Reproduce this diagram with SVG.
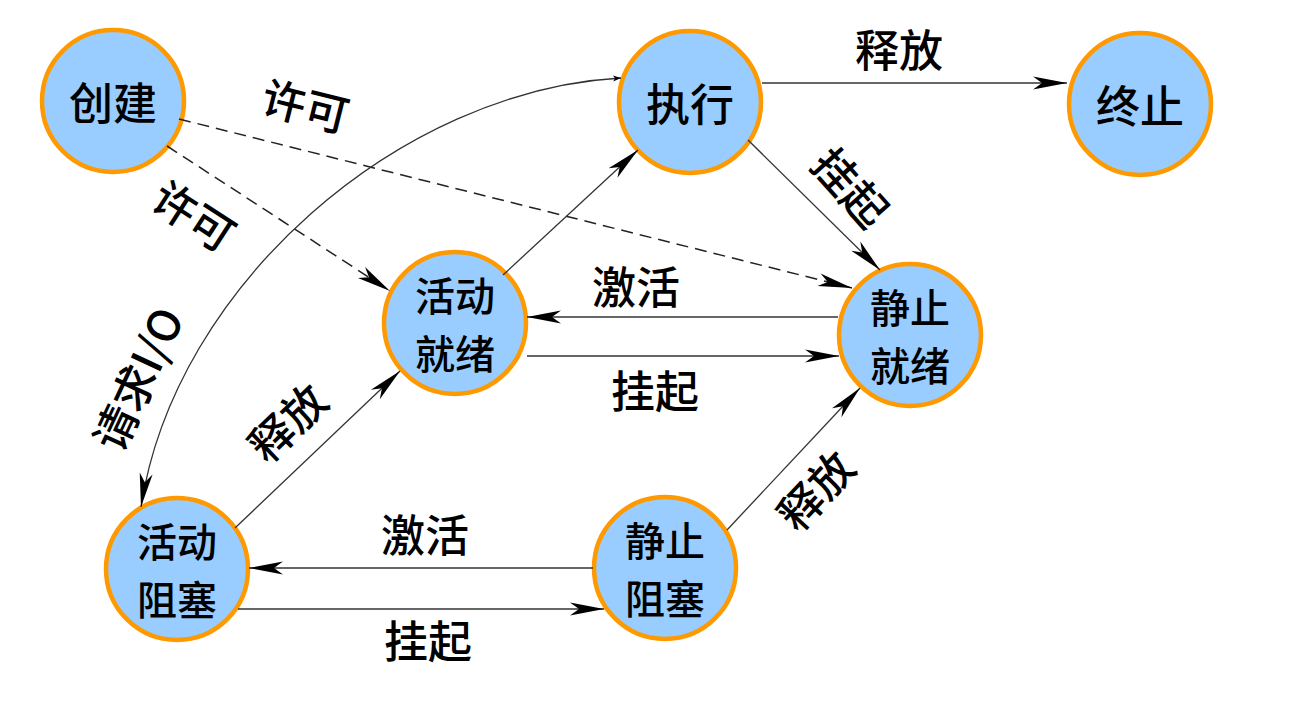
<svg xmlns="http://www.w3.org/2000/svg" width="1290" height="703" viewBox="0 0 1290 703">
<style>
.node circle{fill:#99CCFF;stroke:#FF9900;stroke-width:4.5}
text{font-family:"Noto Sans CJK SC","Noto Sans",sans-serif;font-size:44px;font-weight:500;fill:#000;text-anchor:middle;dominant-baseline:central}
.node text.two{font-size:40px}
.e{fill:none;stroke:#333;stroke-width:1.3}
.d{fill:none;stroke:#222;stroke-width:1.5;stroke-dasharray:12 7}
</style>
<defs>
<marker id="ah" markerUnits="userSpaceOnUse" markerWidth="40" markerHeight="16" viewBox="-37 -8 38 16" refX="0" refY="0" orient="auto">
<path d="M0,0 L-34,-6.5 L-25,0 L-34,6.5 Z" fill="#000"/>
</marker>
<marker id="sm" markerUnits="userSpaceOnUse" markerWidth="10" markerHeight="8" viewBox="-9 -4 10 8" refX="0" refY="0" orient="auto-start-reverse">
<path d="M0,0 L-8,-3 L-6,0 L-8,3 Z" fill="#000"/>
</marker>
</defs>
<rect width="1290" height="703" fill="#fff"/>
<g id="nodes">
<g id="n-create" class="node"><circle cx="113" cy="101" r="71"/><text x="113" y="101">创建</text></g>
<g id="n-run" class="node"><circle cx="690" cy="102" r="71"/><text x="690" y="102">执行</text></g>
<g id="n-end" class="node"><circle cx="1140" cy="104" r="71"/><text x="1140" y="104">终止</text></g>
<g id="n-aready" class="node"><circle cx="455" cy="323" r="71"/><text class="two" x="455" y="294">活动</text><text class="two" x="455" y="352">就绪</text></g>
<g id="n-sready" class="node"><circle cx="910" cy="335" r="71"/><text class="two" x="910" y="306">静止</text><text class="two" x="910" y="364">就绪</text></g>
<g id="n-ablock" class="node"><circle cx="177" cy="569" r="71"/><text class="two" x="177" y="540">活动</text><text class="two" x="177" y="598">阻塞</text></g>
<g id="n-sblock" class="node"><circle cx="665" cy="568" r="71"/><text class="two" x="665" y="539">静止</text><text class="two" x="665" y="597">阻塞</text></g>
</g>
<g id="connectors">
<path class="d" d="M167,146 L390,291" marker-end="url(#ah)"/>
<path class="d" d="M179,119 L852,288" marker-end="url(#ah)"/>
<path class="e" d="M762,83 L1067,83" marker-end="url(#ah)"/>
<path class="e" d="M748,140 L880,270" marker-end="url(#ah)"/>
<path class="e" d="M503,275 L638,150" marker-end="url(#ah)"/>
<path class="e" d="M838,317 L527,317" marker-end="url(#ah)"/>
<path class="e" d="M527,356 L839,356" marker-end="url(#ah)"/>
<path class="e" d="M235,528 L400,371" marker-end="url(#ah)"/>
<path class="e" d="M727,530 L860,388" marker-end="url(#ah)"/>
<path class="e" d="M593,568 L249,568" marker-end="url(#ah)"/>
<path class="e" d="M238,609 L604,609" marker-end="url(#ah)"/>
<path class="e" d="M621,78 C400,90 175,285 141,507" marker-start="url(#sm)" marker-end="url(#ah)"/>
</g>
<g id="labels">
<text x="306" y="104" transform="rotate(14 306 104)">许可</text>
<text x="195" y="214" transform="rotate(33 195 214)">许可</text>
<text x="136" y="378" transform="rotate(-65 136 378)">请求I/O</text>
<text x="286" y="421" transform="rotate(-44 286 421)">释放</text>
<text x="814" y="489" transform="rotate(-47 814 489)">释放</text>
<text x="852" y="186" transform="rotate(48 852 186)">挂起</text>
<text x="899" y="48">释放</text>
<text x="636" y="285">激活</text>
<text x="655" y="389">挂起</text>
<text x="425" y="533">激活</text>
<text x="428" y="639">挂起</text>
</g>
</svg>
